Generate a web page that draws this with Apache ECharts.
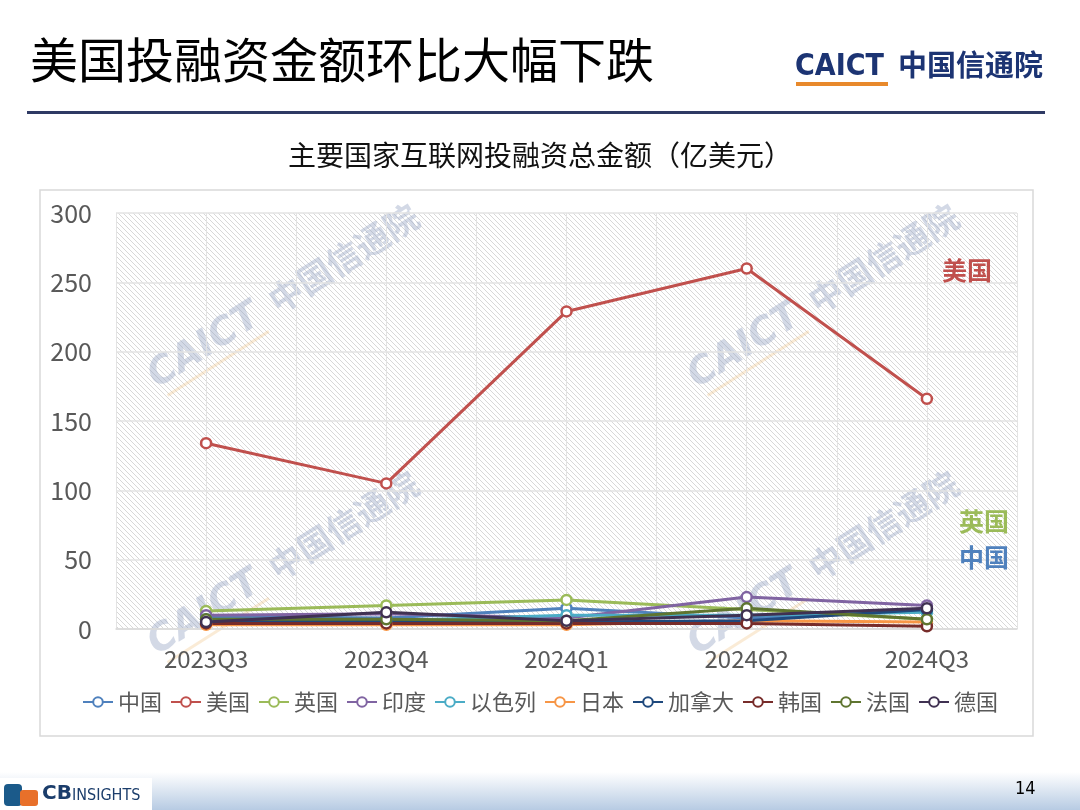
<!DOCTYPE html>
<html><head><meta charset="utf-8">
<script src="https://cdn.jsdelivr.net/npm/echarts@6/dist/echarts.min.js"></script>
<style>html,body{margin:0;padding:0;background:#fff}#c{width:1080px;height:810px}</style>
</head><body><div id="c"></div>
<script>
const categories = ['2023Q3','2023Q4','2024Q1','2024Q2','2024Q3'];
const yTicks = [0,50,100,150,200,250,300];
const seriesNames = ['中国','美国','英国','印度','以色列','日本','加拿大','韩国','法国','德国'];
const china   = [9, 8, 15, 8, 13];
const usa     = [134, 105, 229, 260, 166];
const uk      = [13, 17, 21, 14, 7];
const india   = [10, 11, 8, 23, 17];
const israel  = [7, 6, 10, 10, 12];
const japan   = [3, 3, 3, 6, 5];
const canada  = [5, 6, 5, 6, 14];
const korea   = [4, 4, 4, 4, 2];
const france  = [7, 7, 6, 15, 7];
const germany = [5, 12, 6, 10, 15];
const seriesData = [china, usa, uk, india, israel, japan, canada, korea, france, germany];
const colors = ['#4F81BD','#C0504D','#9BBB59','#8064A2','#4BACC6','#F79646','#1F497D','#772C2A','#5F7530','#403152'];

const FONT = '"Noto Sans CJK SC", "Noto Sans", sans-serif';

// hatch pattern
const pc = document.createElement('canvas');
pc.width = 5; pc.height = 5;
const g = pc.getContext('2d');
g.fillStyle = '#ffffff'; g.fillRect(0,0,5,5);
g.strokeStyle = '#d8d8d8'; g.lineWidth = 1;
g.beginPath();
g.moveTo(0,0); g.lineTo(5,5);
g.moveTo(-2.5,2.5); g.lineTo(2.5,7.5);
g.moveTo(2.5,-2.5); g.lineTo(7.5,2.5);
g.stroke();

const chart = echarts.init(document.getElementById('c'), null, {renderer:'canvas'});

function watermark(cx, cy) {
  return {
    type: 'group', x: cx, y: cy, rotation: Math.PI * 0.18, z: 1, silent: true,
    children: [
      {type:'text', style:{text:'CAICT', x:-140, y:0, font:'italic bold 38px "DejaVu Sans", sans-serif', fill:'rgba(150,165,195,0.42)', textVerticalAlign:'middle'}},
      {type:'rect', shape:{x:-135,y:20,width:120,height:3}, style:{fill:'rgba(240,190,120,0.3)'}},
      {type:'text', style:{text:'中国信通院', x:2, y:0, font:'bold 34px "Noto Sans CJK SC", sans-serif', fill:'rgba(150,165,195,0.42)', textVerticalAlign:'middle'}}
    ]
  };
}

const option = {
  backgroundColor: '#ffffff',
  animation: false,
  color: colors,
  title: {
    text: '主要国家互联网投融资总金额（亿美元）',
    left: 'center', top: 136,
    textStyle: {fontFamily: FONT, fontSize: 28, fontWeight: 'normal', color: '#111'}
  },
  legend: {
    data: seriesNames,
    left: 'center', top: 686,
    itemGap: 8, itemWidth: 30, itemHeight: 12,
    textStyle: {fontFamily: FONT, fontSize: 22, color: '#595959'}
  },
  grid: {
    left: 116, right: 63, top: 213, bottom: 181,
    show: true, borderWidth: 0,
    backgroundColor: {image: pc, repeat: 'repeat'}
  },
  xAxis: [{
    type: 'category', data: categories, boundaryGap: true,
    axisLine: {lineStyle: {color: '#d9d9d9', width: 1.5}},
    axisTick: {show: false},
    axisLabel: {fontFamily: FONT, fontSize: 24, color: '#595959', margin: 18},
    splitLine: {show: false}
  }, {
    type: 'value', min: 0, max: 10, interval: 1, position: 'top',
    axisLine: {show: false}, axisTick: {show: false}, axisLabel: {show: false},
    splitLine: {show: true, lineStyle: {color: '#e3e3e3', width: 1}}
  }],
  yAxis: {
    type: 'value', min: yTicks[0], max: yTicks[yTicks.length-1], interval: 50,
    axisLine: {show: false}, axisTick: {show: false},
    axisLabel: {fontFamily: FONT, fontSize: 25, color: '#595959', margin: 24},
    splitLine: {lineStyle: {color: '#e3e3e3', width: 1.5}}
  },
  series: seriesNames.map((n, i) => ({
    name: n, type: 'line', data: seriesData[i], xAxisIndex: 0,
    color: colors[i],
    symbol: 'circle', symbolSize: 10,
    itemStyle: {color: '#ffffff', borderColor: colors[i], borderWidth: 2.5},
    lineStyle: {color: colors[i], width: 3},
    z: i === 1 ? 4 : 3
  })),
  graphic: [
    {type:'text', left: 30, top: 36, style:{text:'美国投融资金额环比大幅下跌', font:'48px "Noto Sans CJK SC", sans-serif', fill:'#000'}},
    {type:'rect', shape:{x:27, y:111, width:1018, height:3}, style:{fill:'#2F3A64'}},
    {type:'text', left: 795, top: 52, style:{text:'CAICT', font:'bold 30px "DejaVu Sans Condensed", "DejaVu Sans", sans-serif', fill:'#1C3473'}},
    {type:'rect', shape:{x:796, y:82, width:92, height:4}, style:{fill:'#E8892B'}},
    {type:'text', left: 898, top: 50, style:{text:'中国信通院', font:'bold 29px "Noto Sans CJK SC", sans-serif', fill:'#1C3473'}},
    {type:'rect', shape:{x:40, y:190, width:993, height:546}, style:{fill:'none', stroke:'#d9d9d9', lineWidth:1.5}, z: 0},
    watermark(270, 305),
    watermark(810, 305),
    watermark(270, 572),
    watermark(810, 572),
    {type:'text', left: 942, top: 258, style:{text:'美国', font:'bold 25px "Noto Sans CJK SC", sans-serif', fill:'#C0504D'}, z: 5},
    {type:'text', left: 959, top: 509, style:{text:'英国', font:'bold 25px "Noto Sans CJK SC", sans-serif', fill:'#9BBB59'}, z: 5},
    {type:'text', left: 959, top: 545, style:{text:'中国', font:'bold 25px "Noto Sans CJK SC", sans-serif', fill:'#4F81BD'}, z: 5},
    {type:'rect', shape:{x:0, y:772, width:1080, height:38}, style:{fill: new echarts.graphic.LinearGradient(0,0,0,1,[{offset:0,color:'#ffffff'},{offset:1,color:'#b7cbe3'}])}, z: 0},
    {type:'rect', shape:{x:0, y:778, width:152, height:32}, style:{fill:'#ffffff'}, z: 1},
    {type:'rect', shape:{x:4, y:784, width:18, height:22, r:4}, style:{fill:'#1B5A8A'}, z: 2},
    {type:'rect', shape:{x:20, y:790, width:18, height:16, r:3}, style:{fill:'#E8702A'}, z: 2},
    {type:'text', left: 42, top: 784, style:{text:'CB', font:'bold 20px "DejaVu Sans", sans-serif', fill:'#1B3D6B'}, z: 2},
    {type:'text', left: 72, top: 788, style:{text:'INSIGHTS', font:'16px "DejaVu Sans Condensed", sans-serif', fill:'#1B3D6B'}, z: 2},
    {type:'text', left: 1015, top: 780, style:{text:'14', font:'18px "Liberation Sans Narrow", "DejaVu Sans Condensed", sans-serif', fill:'#000'}, z: 2}
  ]
};
chart.setOption(option);
</script>
</body></html>
